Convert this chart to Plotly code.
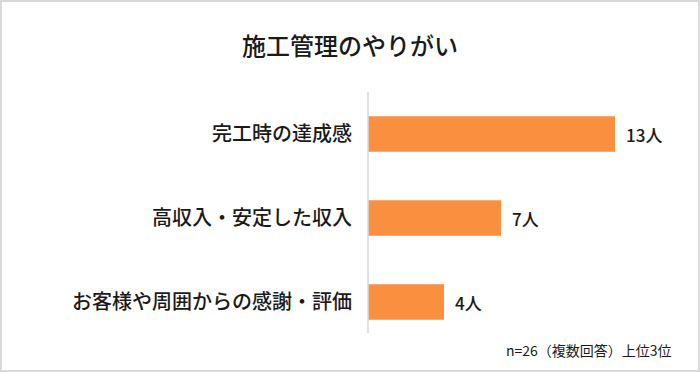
import plotly.graph_objects as go

title_text = "施工管理のやりがい"
categories = ["完工時の達成感", "高収入・安定した収入", "お客様や周囲からの感謝・評価"]
values = [13, 7, 4]
value_labels = ["13人", "7人", "4人"]
note_text = "n=26（複数回答）上位3位"

W, H = 700, 372
ml, mr, mt, mb = 368, 28, 92, 28
pw, ph = W - ml - mr, H - mt - mb

def px2paper_x(px):
    return (px - ml) / pw

def px2paper_y(py):
    return (H - mb - py) / ph

FONT = "Noto Sans CJK JP"
bar_color = "#F98F3F"
text_color = "#1a1a1a"

fig = go.Figure()
fig.add_trace(go.Bar(
    x=values, y=categories, orientation="h",
    marker=dict(color=bar_color, line=dict(width=0)),
    hoverinfo="skip",
))

for v, c, lab in zip(values, categories, value_labels):
    fig.add_annotation(x=v, y=c, text=lab, showarrow=False, xanchor="left",
                       xshift=9, font=dict(family=FONT, size=17, color=text_color, weight=500))

fig.add_annotation(x=px2paper_x(674), y=px2paper_y(350), xref="paper", yref="paper",
                   text=note_text, showarrow=False, xanchor="right", yanchor="middle",
                   font=dict(family=FONT, size=14, color=text_color))

# vertical axis line
fig.add_shape(type="line", xref="paper", yref="paper",
              x0=0, x1=0, y0=px2paper_y(92), y1=px2paper_y(333),
              line=dict(color="#d9d9d9", width=1.5))

# outer border
x0, x1 = px2paper_x(1), px2paper_x(699)
y0, y1 = px2paper_y(371), px2paper_y(1)
fig.add_shape(type="rect", xref="paper", yref="paper", x0=x0, x1=x1, y0=y0, y1=y1,
              line=dict(color="#d9d9d9", width=2), fillcolor="rgba(0,0,0,0)", layer="below")

fig.update_layout(
    width=W, height=H,
    margin=dict(l=ml, r=mr, t=mt, b=mb, autoexpand=False),
    paper_bgcolor="white", plot_bgcolor="white",
    showlegend=False,
    bargap=0.58,
    title=dict(text=title_text, x=0.5, xref="container", xanchor="center",
               y=1 - 47 / H, yanchor="middle", yref="container",
               font=dict(family=FONT, size=24, color=text_color, weight=500)),
    xaxis=dict(range=[0, pw / 19.0], visible=False, fixedrange=True, automargin=False),
    yaxis=dict(autorange="reversed", showgrid=False, zeroline=False, showline=False,
               ticks="", ticklabelstandoff=15, automargin=False,
               tickfont=dict(family=FONT, size=20, color=text_color, weight=500)),
)

fig.write_html("out.html", config={"displayModeBar": False},
               post_script="document.body.style.margin='0';document.body.style.overflow='hidden';")
